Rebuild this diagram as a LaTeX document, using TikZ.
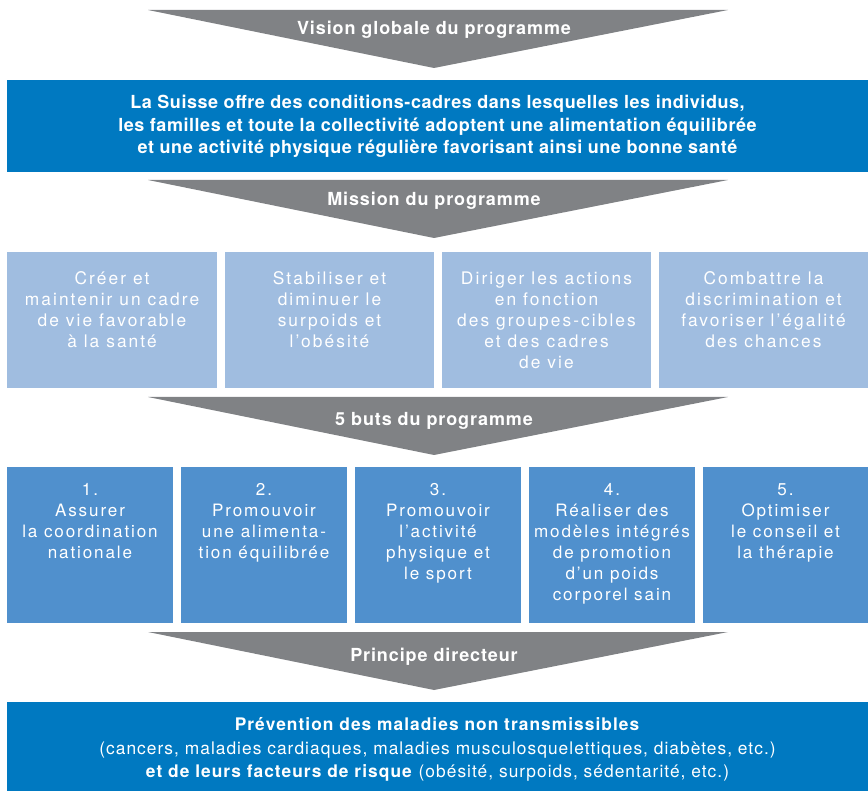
\documentclass[tikz,border=0pt]{standalone}
\usepackage{fontspec}
\setmainfont{TeX Gyre Heros}
\usetikzlibrary{fit}
\definecolor{dblue}{RGB}{0,121,193}
\definecolor{lblue}{RGB}{160,189,224}
\definecolor{mblue}{RGB}{80,144,205}
\definecolor{tgray}{RGB}{128,130,133}
\begin{document}
\begin{tikzpicture}[x=0.75pt,y=-0.75pt,
  every node/.style={text=white},
  panel/.style={inner sep=0pt, outer sep=0pt},
  tlabel/.style={inner sep=0pt, font=\fontsize{13.5}{16}\selectfont\bfseries\addfontfeature{LetterSpace=5}},
  mtext/.style={align=center, anchor=north, inner sep=0pt, font=\fontsize{13}{15.75}\selectfont\addfontfeature{LetterSpace=12}},
  gtext/.style={align=center, anchor=north, inner sep=0pt, font=\fontsize{12.8}{15.75}\selectfont\addfontfeature{LetterSpace=11}},
  bigtext/.style={align=center, inner sep=0pt, font=\fontsize{13.5}{16.9}\selectfont\bfseries\addfontfeature{LetterSpace=3}},
  ptextstyle/.style={align=center, inner sep=0pt, font=\fontsize{13}{17.6}\selectfont\addfontfeature{LetterSpace=6}}
]
\useasboundingbox (0,0) rectangle (868,791);
% funnels
\foreach \t/\n in {10/f1,180/f2,397/f3,632/f4}{
  \coordinate (\n l) at (148,\t);
  \coordinate (\n r) at (728,\t);
  \coordinate (\n a) at (434,\t+58);
  \fill[tgray] (\n l) -- (\n r) -- (\n a) -- cycle;
}
\node[tlabel] (t1) at (434,30) {Vision globale du programme};
\node[tlabel] (t2) at (434,201) {Mission du programme};
\node[tlabel] (t3) at (434,421) {5 buts du programme};
\node[tlabel] (t4) at (434,657) {Principe directeur};

% vision box
\node[panel, fill=dblue, fit={(7,80) (868,172)}] (vbox) {};
\node[bigtext] (vtext) at ([yshift=-0.5pt]vbox.center) {La Suisse offre des conditions-cadres dans lesquelles les individus,\\
les familles et toute la collectivité adoptent une alimentation équilibrée\\
et une activité physique régulière favorisant ainsi une bonne santé};

% mission boxes
\node[panel, fill=lblue, fit={(7,252) (217,388)}] (m1) {};
\node[panel, fill=lblue, fit={(225,252) (434,388)}] (m2) {};
\node[panel, fill=lblue, fit={(442,252) (651,388)}] (m3) {};
\node[panel, fill=lblue, fit={(659,252) (868,388)}] (m4) {};
\node[mtext] (mt1) at ([yshift=-14.5pt]m1.north) {Créer et\\maintenir un cadre\\de vie favorable\\à la santé};
\node[mtext] (mt2) at ([yshift=-14.5pt]m2.north) {Stabiliser et\\diminuer le\\surpoids et\\l'obésité};
\node[mtext] (mt3) at ([yshift=-14.5pt]m3.north) {Diriger les actions\\en fonction\\des groupes-cibles\\et des cadres\\de vie};
\node[mtext] (mt4) at ([yshift=-14.5pt]m4.north) {Combattre la\\discrimination et\\favoriser l'égalité\\des chances};

% goal boxes
\node[panel, fill=mblue, fit={(7,467) (173,623)}] (g1) {};
\node[panel, fill=mblue, fit={(181,467) (347,623)}] (g2) {};
\node[panel, fill=mblue, fit={(355,467) (521,623)}] (g3) {};
\node[panel, fill=mblue, fit={(529,467) (695,623)}] (g4) {};
\node[panel, fill=mblue, fit={(703,467) (868,623)}] (g5) {};
\node[gtext] (gt1) at ([yshift=-12pt]g1.north) {1.\\Assurer\\la coordination\\nationale};
\node[gtext] (gt2) at ([yshift=-12pt]g2.north) {2.\\Promouvoir\\une alimenta-\\tion équilibrée};
\node[gtext] (gt3) at ([yshift=-12pt]g3.north) {3.\\Promouvoir\\l’activité\\physique et\\le sport};
\node[gtext] (gt4) at ([yshift=-12pt]g4.north) {4.\\Réaliser des\\modèles intégrés\\de promotion\\d’un poids\\corporel sain};
\node[gtext] (gt5) at ([yshift=-12pt]g5.north) {5.\\Optimiser\\le conseil et\\la thérapie};

% principle box
\node[panel, fill=dblue, fit={(7,702) (868,791)}] (pbox) {};
\node[ptextstyle] (ptext) at ([yshift=-2.2pt]pbox.center) {\textbf{Prévention des maladies non transmissibles}\\
(cancers, maladies cardiaques, maladies musculosquelettiques, diabètes, etc.)\\
\textbf{et de leurs facteurs de risque} (obésité, surpoids, sédentarité, etc.)};
\end{tikzpicture}
\end{document}
